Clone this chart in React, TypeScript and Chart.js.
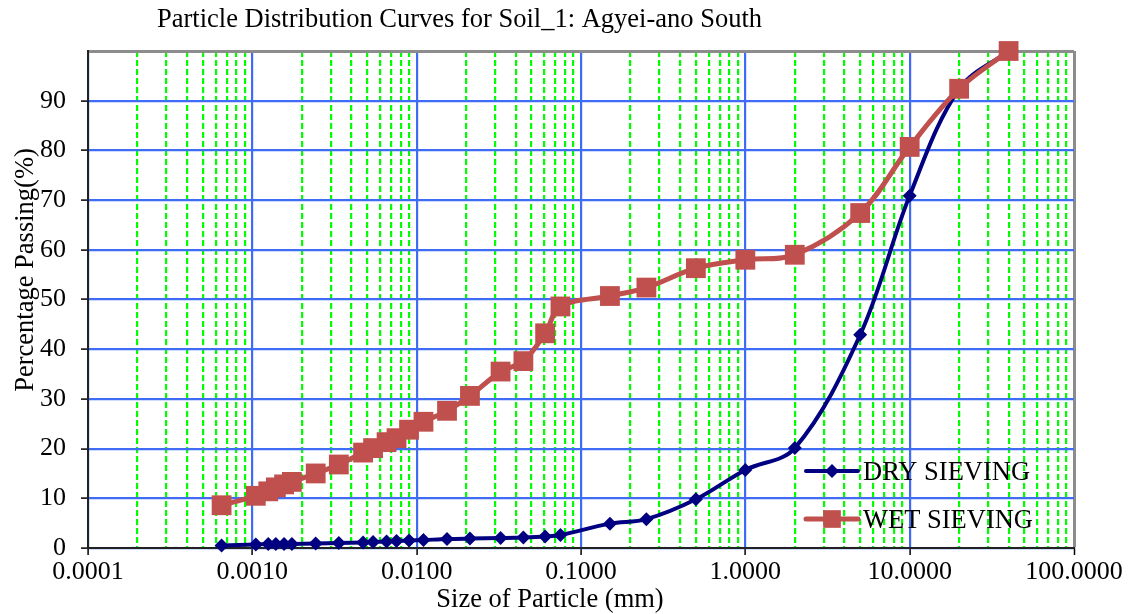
import React, { useEffect, useRef } from "react";
import { Chart, registerables } from "chart.js";

Chart.register(...registerables);

// ---------- data ----------
const particleSizes = [
  0.00065, 0.00105, 0.00125, 0.00139, 0.00156, 0.00174, 0.00243, 0.00336, 0.00472, 0.00543,
  0.00656, 0.00754, 0.00899, 0.011, 0.0153, 0.0211, 0.0324, 0.0446, 0.0605, 0.075,
  0.15, 0.25, 0.5, 1, 2, 5, 10, 20, 40,
];
const drySieving = [
  0.5, 0.7, 0.8, 0.8, 0.8, 0.8, 0.9, 1.0, 1.1, 1.2,
  1.3, 1.4, 1.5, 1.6, 1.8, 1.9, 2.0, 2.1, 2.3, 2.6,
  4.9, 5.8, 9.8, 15.7, 20.1, 42.9, 70.9, 92.4, 100,
];
const wetSieving = [
  8.6, 10.5, 11.4, 12.2, 12.8, 13.3, 15.0, 16.8, 19.2, 20.1,
  21.3, 22.1, 23.8, 25.4, 27.6, 30.6, 35.5, 37.6, 43.2, 48.6,
  50.7, 52.4, 56.3, 58.0, 59.0, 67.4, 80.7, 92.4, 100,
];
const seriesLabels = ["DRY SIEVING", "WET SIEVING"];
const decadeTicks = [0.0001, 0.001, 0.01, 0.1, 1, 10, 100];
const minorMultipliers = [2, 3, 4, 5, 6, 7, 8, 9];
const yTickMin = 0;
const yTickMax = 100;
const yTickStep = 10;

const chartTitle = "Particle Distribution Curves for Soil_1: Agyei-ano South";
const xAxisTitle = "Size of Particle (mm)";
const yAxisTitle = "Percentage Passing(%)";

// ---------- styles ----------
const FONT = "'Liberation Serif', 'Times New Roman', serif";
const BLUE = "#3f6cf5";
const GREEN = "#00ff00";
const FRAME = "#8c8c8c";
const DRY_COLOR = "#000080";
const WET_COLOR = "#c0504d";

const isDecade = (v: number) =>
  Math.abs(Math.log10(v) - Math.round(Math.log10(v))) < 1e-6;

function drawMarker(ctx: CanvasRenderingContext2D, style: string, x: number, y: number, r: number) {
  ctx.beginPath();
  if (style === "rectRot") {
    ctx.moveTo(x, y - r);
    ctx.lineTo(x + r, y);
    ctx.lineTo(x, y + r);
    ctx.lineTo(x - r, y);
    ctx.closePath();
  } else {
    const s = Math.SQRT1_2 * r;
    ctx.rect(x - s, y - s, 2 * s, 2 * s);
  }
  ctx.fill();
}

const textAndLegendPlugin = {
  id: "textAndLegend",
  afterDraw(chart: any) {
    const ctx: CanvasRenderingContext2D = chart.ctx;
    ctx.save();
    ctx.fillStyle = "#000";
    ctx.font = `26.5px ${FONT}`;
    ctx.textBaseline = "alphabetic";

    // chart title
    ctx.textAlign = "left";
    ctx.fillText(chartTitle, 157, 27);

    // x axis title
    ctx.textAlign = "center";
    ctx.fillText(xAxisTitle, 550, 607);

    // y axis title
    ctx.save();
    ctx.translate(33, 270);
    ctx.rotate(-Math.PI / 2);
    ctx.fillText(yAxisTitle, 0, 0);
    ctx.restore();

    // legend (inside plot, lower right)
    const rows = [471, 519];
    chart.data.datasets.forEach((ds: any, i: number) => {
      const y = rows[i];
      ctx.strokeStyle = ds.borderColor;
      ctx.lineWidth = ds.borderWidth;
      ctx.lineCap = "round";
      ctx.beginPath();
      ctx.moveTo(806, y);
      ctx.lineTo(858, y);
      ctx.stroke();
      ctx.fillStyle = ds.pointBackgroundColor;
      drawMarker(ctx, ds.pointStyle, 832, y, ds.pointStyle === "rectRot" ? 7 : 12.5);
      ctx.fillStyle = "#000";
      ctx.textAlign = "left";
      ctx.fillText(ds.label, 863, y + 9);
    });
    ctx.restore();
  },
};

export default function App() {
  const canvasRef = useRef<HTMLCanvasElement | null>(null);

  useEffect(() => {
    if (!canvasRef.current) return;
    Chart.defaults.font.family = FONT;
    Chart.defaults.font.size = 26;
    Chart.defaults.color = "#000";

    const dryData = particleSizes.map((x, i) => ({ x, y: drySieving[i] }));
    const wetData = particleSizes.map((x, i) => ({ x, y: wetSieving[i] }));

    const chart = new Chart(canvasRef.current, {
      type: "line",
      data: {
        datasets: [
          {
            label: seriesLabels[0],
            data: dryData,
            borderColor: DRY_COLOR,
            backgroundColor: DRY_COLOR,
            pointBackgroundColor: DRY_COLOR,
            pointBorderColor: DRY_COLOR,
            borderWidth: 4,
            pointStyle: "rectRot",
            pointRadius: 7,
            pointBorderWidth: 0,
            tension: 0.35,
            fill: false,
            clip: false,
            order: 2,
          },
          {
            label: seriesLabels[1],
            data: wetData,
            borderColor: WET_COLOR,
            backgroundColor: WET_COLOR,
            pointBackgroundColor: WET_COLOR,
            pointBorderColor: WET_COLOR,
            borderWidth: 5,
            pointStyle: "rect",
            pointRadius: 14,
            pointBorderWidth: 0,
            tension: 0.35,
            fill: false,
            clip: false,
            order: 1,
          },
        ],
      },
      options: {
        animation: false,
        responsive: true,
        maintainAspectRatio: false,
        layout: { padding: { top: 51, right: 54, left: 0, bottom: 0 } },
        plugins: {
          legend: { display: false },
          title: { display: false },
          tooltip: { enabled: false },
        },
        scales: {
          x: {
            type: "logarithmic",
            min: decadeTicks[0],
            max: decadeTicks[decadeTicks.length - 1],
            afterBuildTicks: (scale: any) => {
              const vals: number[] = [];
              decadeTicks.forEach((d, i) => {
                vals.push(d);
                if (i < decadeTicks.length - 1) {
                  minorMultipliers.forEach((m) => vals.push(Number((d * m).toPrecision(6))));
                }
              });
              scale.ticks = vals.map((v) => ({ value: v, major: isDecade(v) }));
            },
            afterFit: (scale: any) => {
              scale.height = 66;
            },
            ticks: {
              autoSkip: false,
              maxRotation: 0,
              minRotation: 0,
              padding: 2,
              font: { size: 26, family: FONT },
              color: "#000",
              callback: (value: any) => (isDecade(Number(value)) ? Number(value).toFixed(4) : ""),
            },
            grid: {
              lineWidth: (c: any) => (c.tick && c.tick.value === 100 ? 3 : 2.2),
              color: (c: any) => {
                if (!c.tick) return GREEN;
                if (c.tick.value === 100) return FRAME;
                return isDecade(c.tick.value) ? BLUE : GREEN;
              },
              tickLength: 7,
              tickWidth: 1.5,
              tickColor: (c: any) => (c.tick && isDecade(c.tick.value) ? "#000" : "rgba(0,0,0,0)"),
            },
            border: {
              display: true,
              color: "#222",
              width: 2,
              dash: (c: any) => (c.tick && !isDecade(c.tick.value) ? [6, 3] : []),
            },
          },
          y: {
            type: "linear",
            min: yTickMin,
            max: yTickMax,
            afterFit: (scale: any) => {
              scale.width = 88;
            },
            ticks: {
              stepSize: yTickStep,
              padding: 15,
              font: { size: 26, family: FONT },
              color: "#000",
              callback: (value: any) => (Number(value) === yTickMax ? "" : String(value)),
            },
            grid: {
              lineWidth: (c: any) => (c.tick && c.tick.value === yTickMax ? 3 : 2.2),
              color: (c: any) => (c.tick && c.tick.value === yTickMax ? FRAME : BLUE),
              tickLength: 7,
              tickWidth: 1.5,
              tickColor: (c: any) => (c.tick && c.tick.value === yTickMax ? "rgba(0,0,0,0)" : "#000"),
            },
            border: { display: true, color: "#222", width: 2 },
          },
        },
      },
      plugins: [textAndLegendPlugin],
    } as any);

    return () => chart.destroy();
  }, []);

  return (
    <div style={{ position: "fixed", left: 0, top: 0, width: 1128, height: 614, background: "#fff" }}>
      <canvas ref={canvasRef} />
    </div>
  );
}
